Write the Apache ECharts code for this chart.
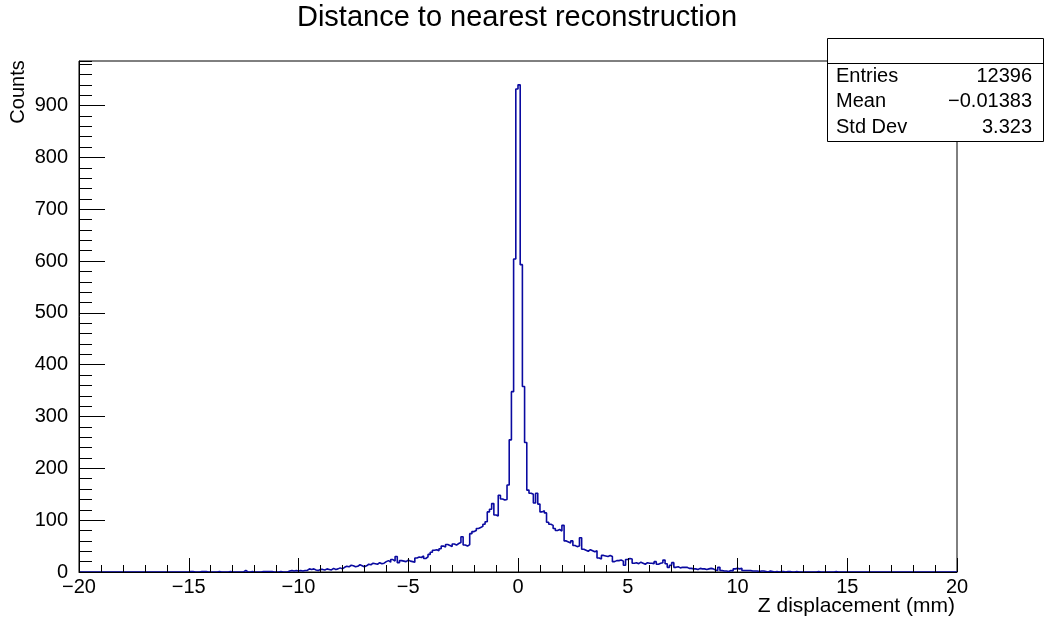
<!DOCTYPE html>
<html>
<head>
<meta charset="utf-8">
<script src="https://cdn.jsdelivr.net/npm/echarts@6/dist/echarts.min.js"></script>
<style>
html,body{margin:0;padding:0;background:#fff;}
#chart{width:1047px;height:622px;}
</style>
</head>
<body>
<div id="chart"></div>
<script>
// ---- data ----
const titleText = 'Distance to nearest reconstruction';
const xTitle = 'Z displacement (mm)';
const yTitle = 'Counts';
const binLow = -20;
const binWidth = 0.1;
// 400 bins of 0.1 mm from -20 to 20 (one row = 1 mm)
const counts = [
  0,0,0,0,0,0,0,0,0,0,            // -20
  0,0,0,0,0,0,0,0,0,0,            // -19
  0,0,0,0,0,0,0,0,0,0,            // -18
  0,0,0,0,0,0,0,0,0,0,            // -17
  0,0,0,0,0,0,0,0,0,0,            // -16
  1,1,0,0,0,1,1,1,0,0,            // -15
  0,0,0,1,0,0,0,0,1,0,            // -14
  0,0,0,0,0,3,0,0,1,0,            // -13
  0,0,0,1,1,1,1,1,0,0,            // -12
  0,1,0,0,0,2,3,2,3,2,            // -11
  3,2,3,3,6,5,6,4,3,5,            // -10
  5,4,6,5,4,7,5,6,8,6,            // -9
  9,11,10,13,12,10,11,14,12,10,   // -8
  12,15,14,17,16,15,18,16,17,20,  // -7
  22,19,24,21,30,18,22,21,20,23,  // -6
  21,20,19,27,29,28,31,26,29,34,  // -5
  38,42,43,41,45,50,48,53,51,49,  // -4
  54,52,55,57,68,52,50,53,74,78,  // -3
  80,84,86,88,92,97,116,121,132,110, // -2
  108,148,141,139,140,168,255,348,604,932, // -1
  940,593,358,250,158,152,150,133,152,131, // 0
  116,118,114,96,92,90,84,80,82,79,   // 1
  90,60,58,56,60,51,49,50,66,44,      // 2
  42,40,43,41,39,41,27,25,32,31,      // 3
  30,32,30,20,22,22,23,21,13,24,      // 4
  26,25,17,18,16,19,17,15,18,17,      // 5
  17,16,20,15,17,18,23,16,9,13,       // 6
  18,9,10,8,9,9,9,7,7,6,              // 7
  6,5,7,6,6,5,6,7,6,4,                // 8
  3,9,3,2,2,1,3,2,6,7,                // 9
  6,7,3,3,3,3,2,2,2,1,                // 10
  2,2,1,0,2,1,0,1,0,1,                // 11
  1,0,1,1,0,0,1,0,0,0,                // 12
  0,0,0,0,0,0,1,0,0,0,                // 13
  0,0,0,0,1,0,0,0,0,0,                // 14
  0,0,0,0,0,0,0,0,0,0,                // 15
  0,0,0,0,0,0,0,0,0,0,                // 16
  0,0,0,0,0,0,0,0,0,0,                // 17
  0,0,0,0,0,0,0,0,0,0,                // 18
  0,0,0,0,0,0,0,0,0,0                 // 19
];
const xMin = -20, xMax = 20, xStep = 5;
const yMax = 986;
const yTicks = [0,100,200,300,400,500,600,700,800,900];
const yMinorStep = 20;
const statsLabels = ['Entries', 'Mean', 'Std Dev'];
const statsValues = ['12396', '\u22120.01383', '3.323'];

// ---- build ----
const stepData = counts.map((c, i) => [+(binLow + i * binWidth).toFixed(4), c]);
stepData.push([+(binLow + counts.length * binWidth).toFixed(4), 0]);

const FONT = '"Liberation Sans", Arial, Helvetica, sans-serif';
const fmt = v => (v < 0 ? '\u2212' + (-v) : '' + v);

const GL = 79, GT = 61, GW = 878, GH = 511;

const chart = echarts.init(document.getElementById('chart'), null, {renderer: 'canvas'});
const option = {
  backgroundColor: '#fff',
  animation: false,
  grid: [
    {left: GL, top: GT, width: GW, height: GH, show: true, borderColor: '#000', borderWidth: 1, backgroundColor: 'transparent'},
    {left: GL, top: GT, width: GW, height: GH, show: false}
  ],
  xAxis: [
    {
      gridIndex: 0, type: 'value', min: xMin, max: xMax, interval: xStep, z: 3,
      axisLine: {show: true, onZero: false, lineStyle: {color: '#000', width: 1}},
      axisTick: {show: true, inside: true, length: 14, lineStyle: {color: '#000', width: 1}},
      minorTick: {show: true, splitNumber: 5, length: 7, lineStyle: {color: '#000', width: 1}},
      axisLabel: {color: '#000', fontFamily: FONT, fontSize: 20, margin: 5, formatter: fmt},
      splitLine: {show: false}
    },
    {
      gridIndex: 1, type: 'value', min: xMin, max: xMax, show: false,
      axisLine: {onZero: false}
    }
  ],
  yAxis: [
    {
      gridIndex: 0, type: 'value', min: 0, max: yMax, z: 3,
      axisLine: {show: true, onZero: false, lineStyle: {color: '#000', width: 1}},
      axisTick: {show: true, inside: true, length: 26, customValues: yTicks, lineStyle: {color: '#000', width: 1}},
      axisLabel: {color: '#000', fontFamily: FONT, fontSize: 20, margin: 11, customValues: yTicks, formatter: fmt},
      splitLine: {show: false}
    },
    {
      gridIndex: 1, type: 'value', min: 0, max: yMax, interval: yMinorStep, z: 3,
      position: 'left',
      axisLine: {show: false, onZero: false},
      axisTick: {show: true, inside: true, length: 13, lineStyle: {color: '#000', width: 1}},
      axisLabel: {show: false},
      splitLine: {show: false}
    }
  ],
  series: [{
    type: 'line',
    xAxisIndex: 0, yAxisIndex: 0,
    data: stepData,
    step: 'end',
    symbol: 'none',
    z: 2,
    lineStyle: {color: '#0a0aa0', width: 1.6},
    silent: true
  }],
  graphic: [
    {type: 'text', x: 517, y: 18, z: 10,
      style: {text: titleText, font: '29px ' + FONT, fill: '#000', align: 'center', verticalAlign: 'middle'}},
    {type: 'text', x: 955, y: 606, z: 10,
      style: {text: xTitle, font: '21px ' + FONT, fill: '#000', align: 'right', verticalAlign: 'middle'}},
    {type: 'text', x: 18, y: 92, rotation: Math.PI / 2, z: 10,
      style: {text: yTitle, font: '20px ' + FONT, fill: '#000', align: 'center', verticalAlign: 'middle'}},
    {type: 'group', x: 827, y: 38, z: 20, children: [
      {type: 'rect', shape: {x: 0.5, y: 0.5, width: 216, height: 103}, z: 20,
        style: {fill: '#fff', stroke: '#000', lineWidth: 1}},
      {type: 'line', shape: {x1: 0.5, y1: 25.5, x2: 216.5, y2: 25.5}, z: 21,
        style: {stroke: '#000', lineWidth: 1}},
      ...statsLabels.map((t, i) => ({type: 'text', x: 9, y: 38 + i * 25.5, z: 21,
        style: {text: t, font: '20px ' + FONT, fill: '#000', align: 'left', verticalAlign: 'middle'}})),
      ...statsValues.map((t, i) => ({type: 'text', x: 205, y: 38 + i * 25.5, z: 21,
        style: {text: t, font: '20px ' + FONT, fill: '#000', align: 'right', verticalAlign: 'middle'}}))
    ]}
  ]
};
chart.setOption(option);
</script>
</body>
</html>
